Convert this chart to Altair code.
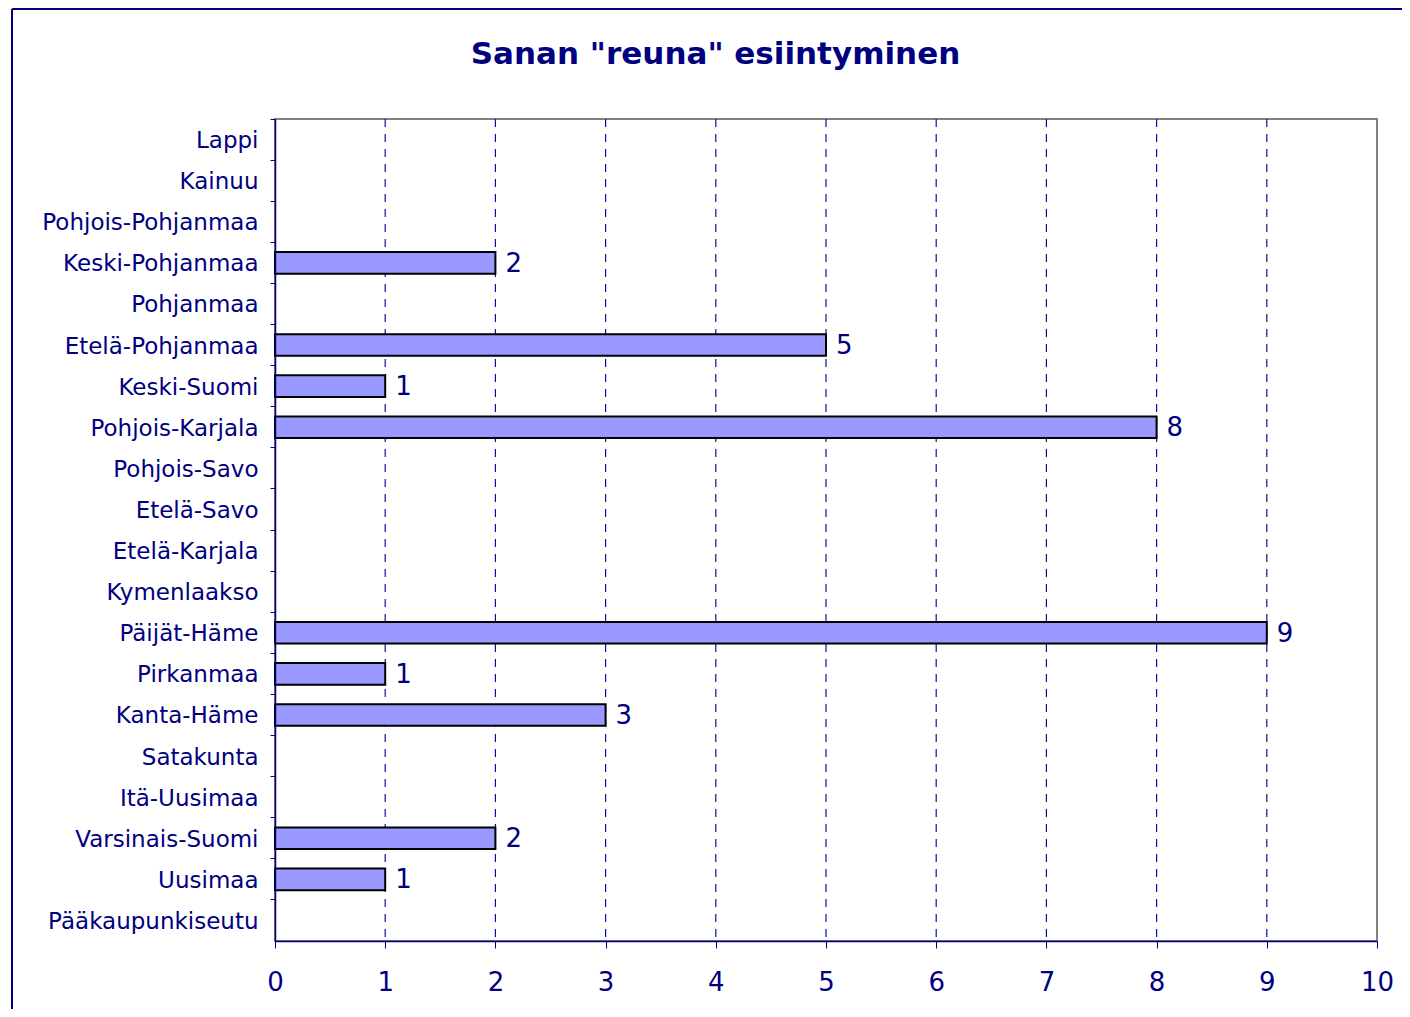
import altair as alt
import pandas as pd

regions = ["Lappi", "Kainuu", "Pohjois-Pohjanmaa", "Keski-Pohjanmaa", "Pohjanmaa",
           "Etelä-Pohjanmaa", "Keski-Suomi", "Pohjois-Karjala", "Pohjois-Savo",
           "Etelä-Savo", "Etelä-Karjala", "Kymenlaakso", "Päijät-Häme", "Pirkanmaa",
           "Kanta-Häme", "Satakunta", "Itä-Uusimaa", "Varsinais-Suomi", "Uusimaa",
           "Pääkaupunkiseutu"]
counts = [0, 0, 0, 2, 0, 5, 1, 8, 0, 0, 0, 0, 9, 1, 3, 0, 0, 2, 1, 0]
x_ticks = [0, 1, 2, 3, 4, 5, 6, 7, 8, 9, 10]
grid_values = [1, 2, 3, 4, 5, 6, 7, 8, 9]
title_text = ['Sanan "reuna" esiintyminen']

NAVY = "#000080"
W, H = 1102, 822

df = pd.DataFrame({"alue": regions, "n": counts})
grid_df = pd.DataFrame({"g": grid_values})
title_df = pd.DataFrame({"t": title_text})

xscale = alt.Scale(domain=[0, 10], nice=False, zero=True)
yscale = alt.Scale(domain=regions, paddingInner=0, paddingOuter=0)

x_axis = alt.Axis(values=x_ticks, format="d", grid=False, domainColor=NAVY, domainWidth=1.5,
                  tickColor=NAVY, tickSize=7, tickWidth=1, labelColor=NAVY, labelFontSize=26,
                  labelFont="DejaVu Sans", labelPadding=21, labelFlush=False, title=None, zindex=1)
y_axis = alt.Axis(grid=False, domainColor=NAVY, domainWidth=1.5, tickColor=NAVY, tickSize=5,
                  tickWidth=1, bandPosition=0, labelColor=NAVY, labelFontSize=23,
                  labelFont="DejaVu Sans", labelPadding=12, labelOffset=1.5, labelLimit=400,
                  title=None, zindex=1)

grid = alt.Chart(grid_df).mark_rule(color="#1010A0", strokeWidth=1.2, strokeDash=[8, 7]).encode(
    x=alt.X("g:Q", scale=xscale, axis=x_axis),
    y=alt.value(0), y2=alt.value(H)
)

bars = alt.Chart(df).transform_filter("datum.n > 0").mark_bar(
    size=21.6, color="#9999FF", stroke="#000000", strokeWidth=2
).encode(
    x=alt.X("n:Q", scale=xscale, axis=x_axis),
    y=alt.Y("alue:N", scale=yscale, sort=regions, axis=y_axis),
)

labels = alt.Chart(df).transform_filter("datum.n > 0").mark_text(
    align="left", baseline="middle", dx=10, dy=1, fontSize=26, font="DejaVu Sans", color=NAVY
).encode(
    x=alt.X("n:Q", scale=xscale, axis=x_axis),
    y=alt.Y("alue:N", scale=yscale, sort=regions, axis=y_axis),
    text=alt.Text("n:Q", format="d"),
)

title = alt.Chart(title_df).mark_text(
    align="center", baseline="alphabetic", fontSize=31, fontWeight="bold",
    font="DejaVu Sans", color=NAVY
).encode(
    x=alt.value(715.5 - 275), y=alt.value(64 - 119), text="t:N"
)

border_top = alt.Chart(grid_df).mark_rule(color=NAVY, strokeWidth=1.5).encode(
    x=alt.value(-263), x2=alt.value(W + 30), y=alt.value(-110)
)
border_left = alt.Chart(grid_df).mark_rule(color=NAVY, strokeWidth=1.5).encode(
    x=alt.value(-263), y=alt.value(-110), y2=alt.value(H + 80)
)

chart = alt.layer(border_top, border_left, grid, bars, labels, title).properties(
    width=W, height=H,
    autosize=alt.AutoSizeParams(type="none"),
    padding={"left": 267, "top": 111, "right": 25, "bottom": 68},
).configure_view(stroke="#808080", strokeWidth=2)

chart.save("out.html", embed_options={"renderer": "svg", "actions": False})
